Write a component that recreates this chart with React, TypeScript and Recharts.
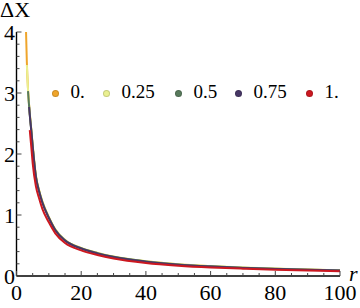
import React from 'react';
import { LineChart, Line, XAxis, YAxis } from 'recharts';

// r grid shared by all curves (null = curve not drawn yet)
const rValues = [2.95, 3.2, 3.55, 3.9, 4.1, 4.6, 5, 6, 7, 8, 10, 12, 15, 20, 25, 30, 40, 50, 60, 70, 80, 90, 100];

const dx0 = [4.0, 3.5, 3.07, 2.8, 2.67, 2.39, 2.15, 1.645, 1.4, 1.22, 0.965, 0.763, 0.59, 0.458, 0.378, 0.317, 0.241, 0.191, 0.16, 0.137, 0.119, 0.105, 0.093];
const dx025 = [null, 3.46, 3.06, 2.79, 2.66, 2.385, 2.145, 1.64, 1.4, 1.22, 0.966, 0.764, 0.592, 0.46, 0.38, 0.319, 0.243, 0.193, 0.162, 0.139, 0.121, 0.107, 0.095];
const dx05 = [null, null, 3.03, 2.78, 2.65, 2.37, 2.13, 1.63, 1.39, 1.21, 0.957, 0.756, 0.585, 0.455, 0.375, 0.314, 0.239, 0.19, 0.158, 0.135, 0.118, 0.104, 0.092];
const dx075 = [null, null, null, 2.77, 2.64, 2.36, 2.12, 1.62, 1.38, 1.2, 0.95, 0.75, 0.58, 0.45, 0.37, 0.31, 0.235, 0.186, 0.155, 0.132, 0.115, 0.101, 0.089];
const dx1 = [null, null, null, null, 2.39, 2.1, 1.85, 1.47, 1.27, 1.1, 0.88, 0.7, 0.54, 0.42, 0.345, 0.288, 0.215, 0.17, 0.14, 0.12, 0.103, 0.09, 0.078];

const seriesNames = ['0.', '0.25', '0.5', '0.75', '1.'];
const seriesColors = ['#EFA52B', '#EAF090', '#587A5C', '#473765', '#CC1820'];
const seriesKeys = ['s0', 's1', 's2', 's3', 's4'];

const xTicks = [0, 5, 10, 15, 20, 25, 30, 35, 40, 45, 50, 55, 60, 65, 70, 75, 80, 85, 90, 95, 100];
const xLabels = [0, 20, 40, 60, 80, 100];
const yTicks = [0, 0.2, 0.4, 0.6, 0.8, 1, 1.2, 1.4, 1.6, 1.8, 2, 2.2, 2.4, 2.6, 2.8, 3, 3.2, 3.4, 3.6, 3.8, 4];
const yLabels = [0, 1, 2, 3, 4];

const data = rValues.map((r, i) => ({
  r,
  s0: dx0[i],
  s1: dx025[i],
  s2: dx05[i],
  s3: dx075[i],
  s4: dx1[i],
}));

const font = '"Liberation Serif"';

function XTick({ x, y, payload }: any) {
  const major = xLabels.includes(payload.value);
  return (
    <g>
      <line x1={x} x2={x} y1={y} y2={y - (major ? 5 : 3)} stroke="#444" strokeWidth={1} />
      {major && (
        <text x={x} y={y + 23.5} textAnchor="middle" fontSize={22} fontFamily={font} fill="#000">
          {payload.value}
        </text>
      )}
    </g>
  );
}

function YTick({ x, y, payload }: any) {
  const major = yLabels.includes(payload.value);
  return (
    <g>
      <line x1={x} x2={x + (major ? 5 : 3)} y1={y} y2={y} stroke="#444" strokeWidth={1} />
      {major && (
        <text x={x - 1.5} y={y + 7.5} textAnchor="end" fontSize={22} fontFamily={font} fill="#000">
          {payload.value}
        </text>
      )}
    </g>
  );
}

// legend dot centres
const legendX = [55, 106, 178, 238, 309];

export default function App() {
  return (
    <div style={{ position: 'absolute', left: 0, top: 0, width: 360, height: 308, background: '#fff' }}>
      <LineChart width={360} height={308} data={data} margin={{ top: 32, right: 20, bottom: 0, left: 0.5 }}>
        <XAxis
          dataKey="r"
          type="number"
          domain={[0, 100]}
          ticks={xTicks}
          interval={0}
          tickSize={0}
          tickMargin={0}
          tickLine={false}
          tick={<XTick />}
          axisLine={{ stroke: '#000', strokeWidth: 1.4 }}
          height={32}
          allowDataOverflow
        />
        <YAxis
          type="number"
          domain={[0, 4]}
          ticks={yTicks}
          interval={0}
          tickSize={0}
          tickMargin={0}
          tickLine={false}
          tick={<YTick />}
          axisLine={{ stroke: '#000', strokeWidth: 1.4 }}
          width={16}
          allowDataOverflow
        />
        {seriesKeys.map((k, i) => (
          <Line
            key={k}
            dataKey={k}
            type="monotone"
            stroke={seriesColors[i]}
            strokeWidth={2}
            dot={false}
            isAnimationActive={false}
            connectNulls={false}
          />
        ))}
      </LineChart>
      <div style={{ position: 'absolute', left: 0, top: 0, fontFamily: font, fontSize: 22, lineHeight: '20px' }}>ΔX</div>
      <div style={{ position: 'absolute', left: 349, top: 264, fontFamily: font, fontSize: 22, fontStyle: 'italic', lineHeight: '20px' }}>r</div>
      {seriesNames.map((name, i) => (
        <div key={name} style={{ position: 'absolute', left: legendX[i] - 3.5, top: 80, height: 24, display: 'flex', alignItems: 'center', fontFamily: font, fontSize: 19 }}>
          <span
            style={{
              width: 7,
              height: 7,
              borderRadius: '50%',
              background: seriesColors[i],
              border: '1px solid rgba(0,0,0,0.15)',
              boxSizing: 'border-box',
              marginRight: 12,
              marginTop: 2,
              display: 'inline-block',
            }}
          />
          <span>{name}</span>
        </div>
      ))}
    </div>
  );
}
